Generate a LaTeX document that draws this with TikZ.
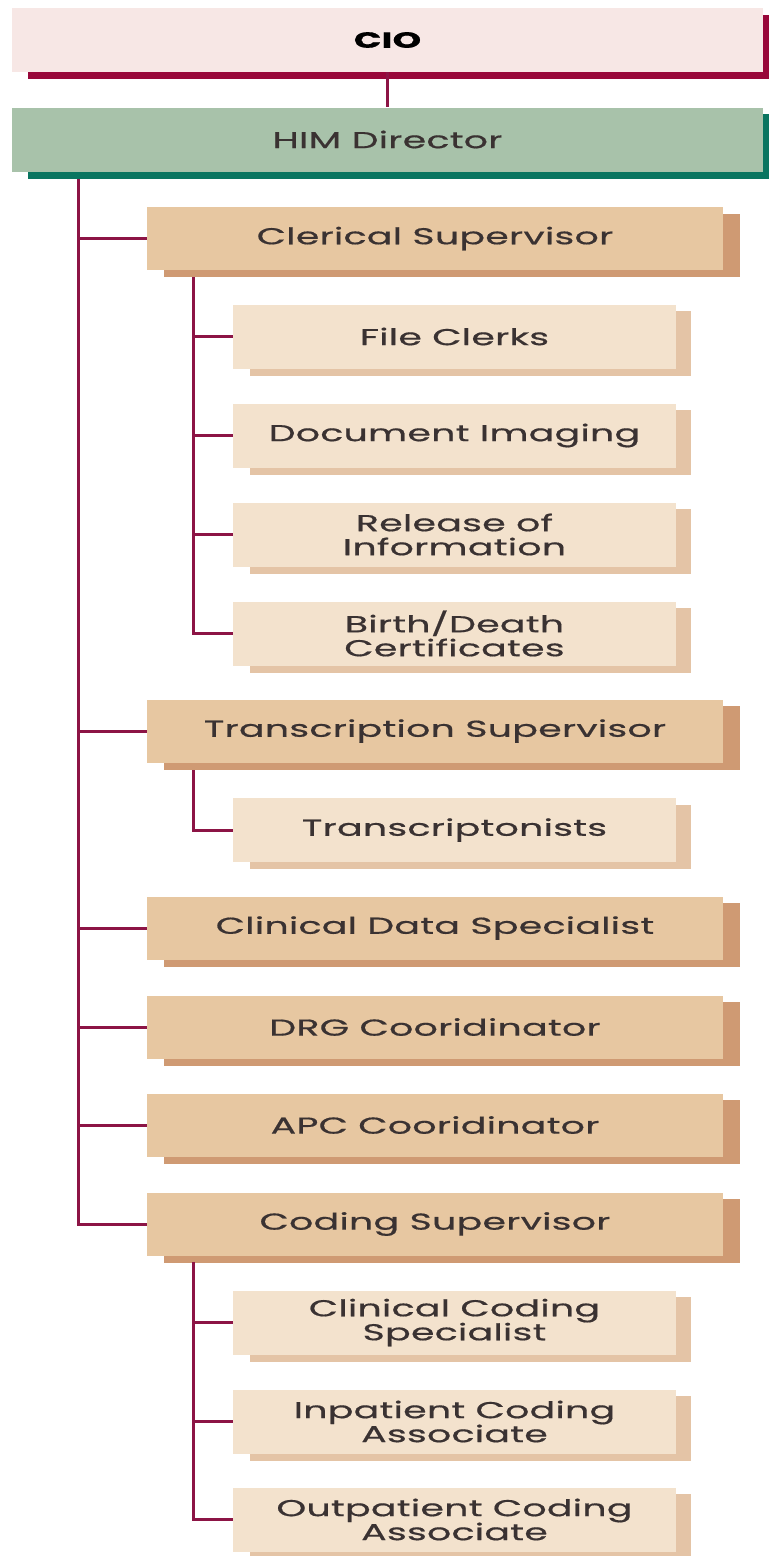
\documentclass[tikz,border=0pt]{standalone}
\usepackage{fontspec}
\setmainfont{Poppins}[FakeStretch=1.65,LetterSpace=1,FakeBold=0.6]
\usetikzlibrary{backgrounds}
\definecolor{ciofill}{HTML}{F7E7E5}
\definecolor{cioshade}{HTML}{98073A}
\definecolor{himfill}{HTML}{A8C2AA}
\definecolor{himshade}{HTML}{0A7560}
\definecolor{supfill}{HTML}{E7C7A1}
\definecolor{supshade}{HTML}{CF9A73}
\definecolor{stafffill}{HTML}{F3E2CD}
\definecolor{staffshade}{HTML}{E4C4A6}
\definecolor{linkcol}{HTML}{8C1445}
\definecolor{txt}{HTML}{3A3232}

\tikzset{
 box/.style={inner sep=0pt, text=txt, font=\fontsize{23}{24}\selectfont, align=center},
 topbox/.style={box, minimum width=751pt, minimum height=64pt},
 supbox/.style={box, fill=supfill, minimum width=576pt, minimum height=63pt},
 staffbox/.style={box, fill=stafffill, minimum width=443pt, minimum height=64pt},
 link/.style={linkcol, line width=3pt},
}

\begin{document}
\begin{tikzpicture}[x=1pt,y=-1pt]
\useasboundingbox (0,0) rectangle (769,1556);
\node[topbox, fill=ciofill, text=black, font=\fontsize{22}{24}\selectfont\bfseries] (cio) at (387.5,40) {CIO};
\node[topbox, fill=himfill] (him) at (387.5,139.5) {HIM Director};
% supervisors and staff
\node[supbox] (cs) at (435,238.5) {Clerical Supervisor};
\node[staffbox] (fc) at (454.5,336.5) {File Clerks};
\node[staffbox] (di) at (454.5,435.5) {Document Imaging};
\node[staffbox] (roi) at (454.5,534.5) {Release of\\Information};
\node[staffbox] (bdc) at (454.5,633.5) {Birth/Death\\Certificates};
\node[supbox] (ts) at (435,731) {Transcription Supervisor};
\node[staffbox] (tr) at (454.5,830) {Transcriptonists};
\node[supbox] (cds) at (435,928) {Clinical Data Specialist};
\node[supbox] (drg) at (435,1027) {DRG Cooridinator};
\node[supbox] (apc) at (435,1125) {APC Cooridinator};
\node[supbox] (cod) at (435,1224) {Coding Supervisor};
\node[staffbox] (ccs) at (454.5,1322.5) {Clinical Coding\\Specialist};
\node[staffbox] (ica) at (454.5,1421.5) {Inpatient Coding\\Associate};
\node[staffbox] (oca) at (454.5,1519.5) {Outpatient Coding\\Associate};

\begin{scope}[on background layer]
\fill[white] (0,0) rectangle (769,1556);
\fill[cioshade] ([shift={(16pt,-7pt)}]cio.south west) rectangle ([shift={(6pt,-7pt)}]cio.north east);
\fill[himshade] ([shift={(16pt,-7pt)}]him.south west) rectangle ([shift={(6pt,-7pt)}]him.north east);
\foreach \n in {cs,ts,cds,drg,apc,cod}
 \fill[supshade] ([shift={(17pt,-7pt)}]\n.south west) rectangle ([shift={(17pt,-7pt)}]\n.north east);
\foreach \n in {fc,di,roi,bdc,tr,ccs,ica,oca}
 \fill[staffshade] ([shift={(17pt,-7pt)}]\n.south west) rectangle ([shift={(15pt,-7pt)}]\n.north east);
\end{scope}

% connectors
\draw[link] (cio) -- (him);
\coordinate (trunk) at (78,179);
\draw[link] (trunk) |- (cod);
\foreach \n in {cs,ts,cds,drg,apc}
 \draw[link] (trunk |- \n) -- (\n);
\coordinate (csb) at (193,277);
\draw[link] (csb) |- (bdc);
\foreach \n in {fc,di,roi}
 \draw[link] (csb |- \n) -- (\n);
\coordinate (tsb) at (193,770);
\draw[link] (tsb) |- (tr);
\coordinate (codb) at (193,1262);
\draw[link] (codb) |- (oca);
\foreach \n in {ccs,ica}
 \draw[link] (codb |- \n) -- (\n);
\end{tikzpicture}
\end{document}
